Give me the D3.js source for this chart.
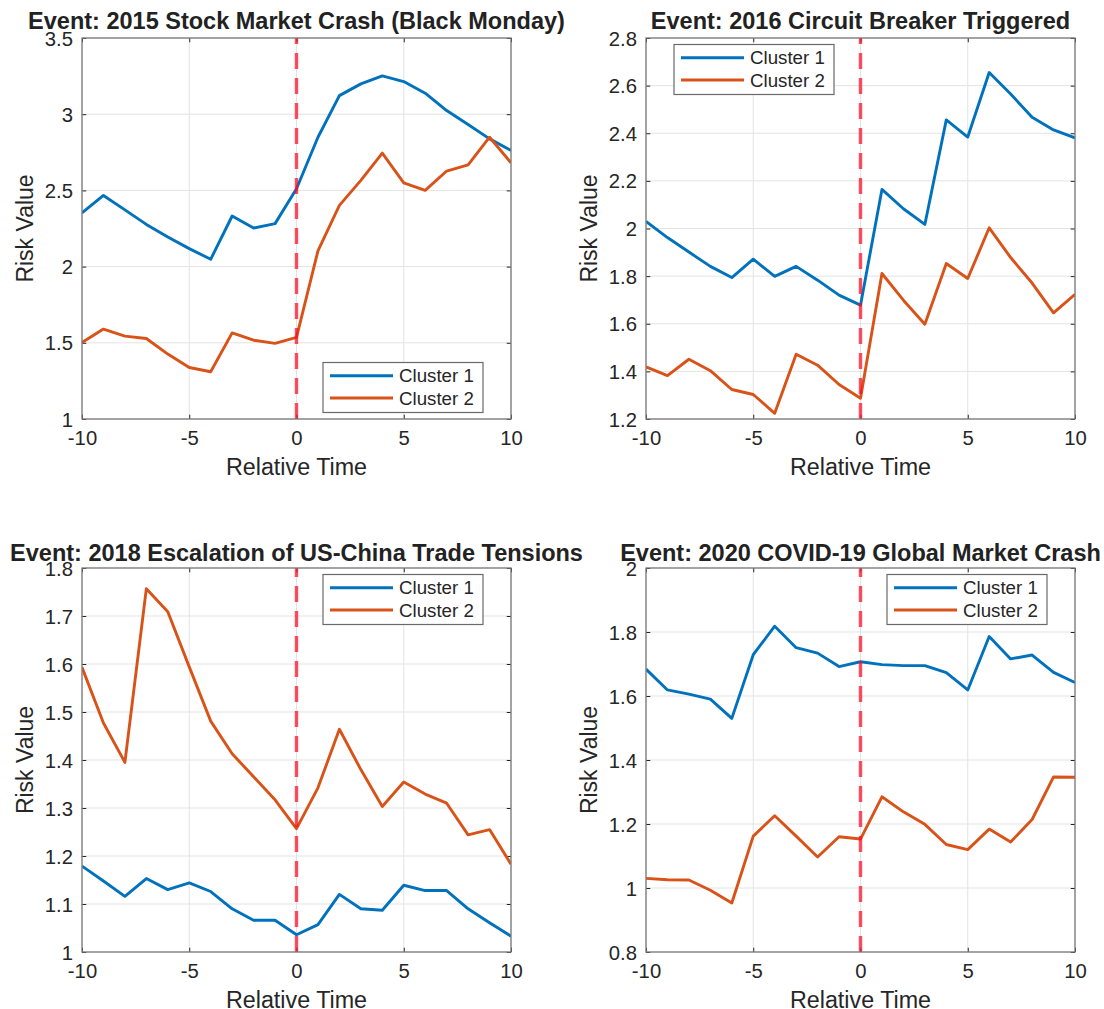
<!DOCTYPE html>
<html>
<head>
<meta charset="utf-8">
<script src="https://cdn.jsdelivr.net/npm/d3@7"></script>
<style>
  html, body { margin: 0; padding: 0; background: #fff; }
  svg { display: block; font-family: "Liberation Sans", Arial, Helvetica, sans-serif; }
</style>
</head>
<body>
<svg id="chart" width="1104" height="1009"></svg>
<script>
// Relative time axis shared by every event window
const relTime = d3.range(-10, 11);

const eventTitles = [
  "Event: 2015 Stock Market Crash (Black Monday)",
  "Event: 2016 Circuit Breaker Triggered",
  "Event: 2018 Escalation of US-China Trade Tensions",
  "Event: 2020 COVID-19 Global Market Crash"
];

const seriesNames = ["Cluster 1", "Cluster 2"];

// Average risk value per cluster, t = -10 .. 10
const crash2015Cluster1 = [2.352, 2.467, 2.372, 2.277, 2.194, 2.118, 2.048, 2.332, 2.253, 2.282, 2.511,
                           2.849, 3.122, 3.199, 3.251, 3.214, 3.138, 3.024, 2.932, 2.838, 2.762];
const crash2015Cluster2 = [1.502, 1.590, 1.544, 1.528, 1.426, 1.338, 1.310, 1.565, 1.517, 1.496, 1.535,
                           2.103, 2.402, 2.566, 2.745, 2.550, 2.500, 2.627, 2.668, 2.849, 2.681];

const breaker2016Cluster1 = [2.030, 1.962, 1.901, 1.841, 1.794, 1.871, 1.799, 1.841, 1.783, 1.720, 1.678,
                             2.164, 2.083, 2.017, 2.456, 2.384, 2.655, 2.565, 2.467, 2.414, 2.381];
const breaker2016Cluster2 = [1.419, 1.382, 1.451, 1.403, 1.324, 1.303, 1.224, 1.472, 1.426, 1.345, 1.287,
                             1.811, 1.699, 1.598, 1.853, 1.790, 2.003, 1.878, 1.771, 1.646, 1.723];

const trade2018Cluster1 = [1.179, 1.148, 1.116, 1.153, 1.130, 1.144, 1.126, 1.090, 1.066, 1.066, 1.036,
                           1.057, 1.120, 1.090, 1.087, 1.139, 1.128, 1.128, 1.090, 1.061, 1.033];
const trade2018Cluster2 = [1.593, 1.477, 1.395, 1.757, 1.709, 1.594, 1.481, 1.413, 1.365, 1.317, 1.257,
                           1.342, 1.464, 1.380, 1.303, 1.354, 1.329, 1.310, 1.244, 1.255, 1.183];

const covid2020Cluster1 = [1.684, 1.619, 1.606, 1.590, 1.530, 1.729, 1.818, 1.751, 1.734, 1.692, 1.707,
                           1.698, 1.695, 1.695, 1.673, 1.619, 1.786, 1.716, 1.728, 1.674, 1.642];
const covid2020Cluster2 = [1.030, 1.026, 1.025, 0.993, 0.953, 1.162, 1.226, 1.162, 1.097, 1.160, 1.153,
                           1.285, 1.238, 1.199, 1.136, 1.120, 1.184, 1.144, 1.214, 1.347, 1.346];

// Axis ticks and their labels
const xTicks = [-10, -5, 0, 5, 10];
const xTickLabels = ["-10", "-5", "0", "5", "10"];

const yTicks2015 = [1, 1.5, 2, 2.5, 3, 3.5];
const yTickLabels2015 = ["1", "1.5", "2", "2.5", "3", "3.5"];
const yTicks2016 = [1.2, 1.4, 1.6, 1.8, 2, 2.2, 2.4, 2.6, 2.8];
const yTickLabels2016 = ["1.2", "1.4", "1.6", "1.8", "2", "2.2", "2.4", "2.6", "2.8"];
const yTicks2018 = [1, 1.1, 1.2, 1.3, 1.4, 1.5, 1.6, 1.7, 1.8];
const yTickLabels2018 = ["1", "1.1", "1.2", "1.3", "1.4", "1.5", "1.6", "1.7", "1.8"];
const yTicks2020 = [0.8, 1, 1.2, 1.4, 1.6, 1.8, 2];
const yTickLabels2020 = ["0.8", "1", "1.2", "1.4", "1.6", "1.8", "2"];

const eventTime = 0;

// Panel definitions built from the arrays above
const panels = [
  { title: eventTitles[0], series: [crash2015Cluster1, crash2015Cluster2],
    yTicks: yTicks2015, yLabels: yTickLabels2015,
    box: { x: 82, y: 38, w: 429, h: 381 }, titleGap: 9.5, legend: "southeast" },
  { title: eventTitles[1], series: [breaker2016Cluster1, breaker2016Cluster2],
    yTicks: yTicks2016, yLabels: yTickLabels2016,
    box: { x: 646, y: 38, w: 429, h: 381 }, titleGap: 9.5, legend: "northwest" },
  { title: eventTitles[2], series: [trade2018Cluster1, trade2018Cluster2],
    yTicks: yTicks2018, yLabels: yTickLabels2018,
    box: { x: 82, y: 568, w: 429, h: 384 }, titleGap: 7.5, legend: "northeast" },
  { title: eventTitles[3], series: [covid2020Cluster1, covid2020Cluster2],
    yTicks: yTicks2020, yLabels: yTickLabels2020,
    box: { x: 646, y: 568, w: 429, h: 384 }, titleGap: 7.5, legend: "northeast" }
];

const colors = ["#0072BD", "#D95319"];
const axisColor = "#262626";
const svg = d3.select("#chart");

panels.forEach((p, idx) => {
  const { x: L, y: T, w: W, h: H } = p.box;
  const g = svg.append("g").attr("transform", `translate(${L},${T})`);

  const xScale = d3.scaleLinear().domain([-10, 10]).range([0, W]);
  const yDomain = d3.extent(p.yTicks);
  const yScale = d3.scaleLinear().domain(yDomain).range([H, 0]);

  // grid
  g.append("g").selectAll("line").data(xTicks).join("line")
    .attr("x1", d => xScale(d)).attr("x2", d => xScale(d))
    .attr("y1", 0).attr("y2", H)
    .attr("stroke", "#e3e3e3").attr("stroke-width", 1);
  g.append("g").selectAll("line").data(p.yTicks).join("line")
    .attr("x1", 0).attr("x2", W)
    .attr("y1", d => yScale(d)).attr("y2", d => yScale(d))
    .attr("stroke", "#e3e3e3").attr("stroke-width", 1);

  // axes with inward ticks on all four sides
  const tl = 4.3;
  const bottomAxis = d3.axisBottom(xScale).tickValues(xTicks)
    .tickFormat((d, i) => xTickLabels[i]).tickSizeInner(-tl).tickSizeOuter(0).tickPadding(0);
  const topAxis = d3.axisTop(xScale).tickValues(xTicks).tickFormat("")
    .tickSizeInner(-tl).tickSizeOuter(0);
  const leftAxis = d3.axisLeft(yScale).tickValues(p.yTicks)
    .tickFormat((d, i) => p.yLabels[i]).tickSizeInner(-tl).tickSizeOuter(0).tickPadding(0);
  const rightAxis = d3.axisRight(yScale).tickValues(p.yTicks).tickFormat("")
    .tickSizeInner(-tl).tickSizeOuter(0);

  const gb = g.append("g").attr("transform", `translate(0,${H})`).call(bottomAxis);
  const gt = g.append("g").call(topAxis);
  const gl = g.append("g").call(leftAxis);
  const gr = g.append("g").attr("transform", `translate(${W},0)`).call(rightAxis);
  [gb, gt, gl, gr].forEach(a => {
    a.select(".domain").remove();
    a.selectAll(".tick line").attr("stroke", axisColor).attr("stroke-width", 1);
  });
  gb.selectAll(".tick text")
    .attr("y", 25.5).attr("dy", null)
    .attr("font-size", 20.3).attr("fill", axisColor)
    .attr("font-family", null);
  gl.selectAll(".tick text")
    .attr("x", -9).attr("dy", "0.35em")
    .attr("font-size", 20.3).attr("fill", axisColor)
    .attr("font-family", null);

  // data lines
  const clipId = `clip${idx}`;
  g.append("clipPath").attr("id", clipId)
    .append("rect").attr("x", 0).attr("y", 0).attr("width", W).attr("height", H);
  const line = d3.line().x((d, i) => xScale(relTime[i])).y(d => yScale(d));
  const plot = g.append("g").attr("clip-path", `url(#${clipId})`);
  p.series.forEach((vals, si) => {
    plot.append("path").datum(vals)
      .attr("d", line)
      .attr("fill", "none")
      .attr("stroke", colors[si])
      .attr("stroke-width", 2.9)
      .attr("stroke-linejoin", "round")
      .attr("stroke-linecap", "butt");
  });

  // event marker at t = 0, dashes laid out from the bottom edge upward
  plot.append("line")
    .attr("x1", xScale(eventTime)).attr("x2", xScale(eventTime))
    .attr("y1", yScale(yDomain[0])).attr("y2", yScale(yDomain[1]))
    .attr("stroke", "rgba(255,10,30,0.72)")
    .attr("stroke-width", 3.4)
    .attr("stroke-dasharray", "16,9");

  // axes box
  g.append("rect").attr("x", 0).attr("y", 0).attr("width", W).attr("height", H)
    .attr("fill", "none").attr("stroke", "#7a7a7a").attr("stroke-width", 1.3);

  // title
  g.append("text")
    .attr("x", W / 2).attr("y", -p.titleGap)
    .attr("text-anchor", "middle")
    .attr("font-size", 23.5).attr("font-weight", "bold").attr("fill", "#222")
    .text(p.title);

  // axis labels
  g.append("text")
    .attr("x", W / 2).attr("y", H + 56)
    .attr("text-anchor", "middle")
    .attr("font-size", 23.3).attr("fill", axisColor)
    .text("Relative Time");
  g.append("text")
    .attr("transform", `translate(-49,${H / 2}) rotate(-90)`)
    .attr("text-anchor", "middle")
    .attr("font-size", 23).attr("fill", axisColor)
    .text("Risk Value");

  // legend
  const lw = 160, lh = 50, side = 28, vert = 6.5;
  const lx = p.legend.endsWith("west") ? side : W - side - lw;
  const ly = p.legend.startsWith("north") ? vert : H - vert - lh;
  const lg = g.append("g").attr("transform", `translate(${lx},${ly})`);
  lg.append("rect").attr("width", lw).attr("height", lh)
    .attr("fill", "#fff").attr("stroke", "#6a6a6a").attr("stroke-width", 1.2);
  seriesNames.forEach((name, si) => {
    const cy = 13.3 + si * 22.2;
    lg.append("line").attr("x1", 7).attr("x2", 70).attr("y1", cy).attr("y2", cy)
      .attr("stroke", colors[si]).attr("stroke-width", 2.9);
    lg.append("text").attr("x", 76).attr("y", cy).attr("dy", "0.35em")
      .attr("font-size", 18.7).attr("fill", axisColor)
      .text(name);
  });
});
</script>
</body>
</html>
